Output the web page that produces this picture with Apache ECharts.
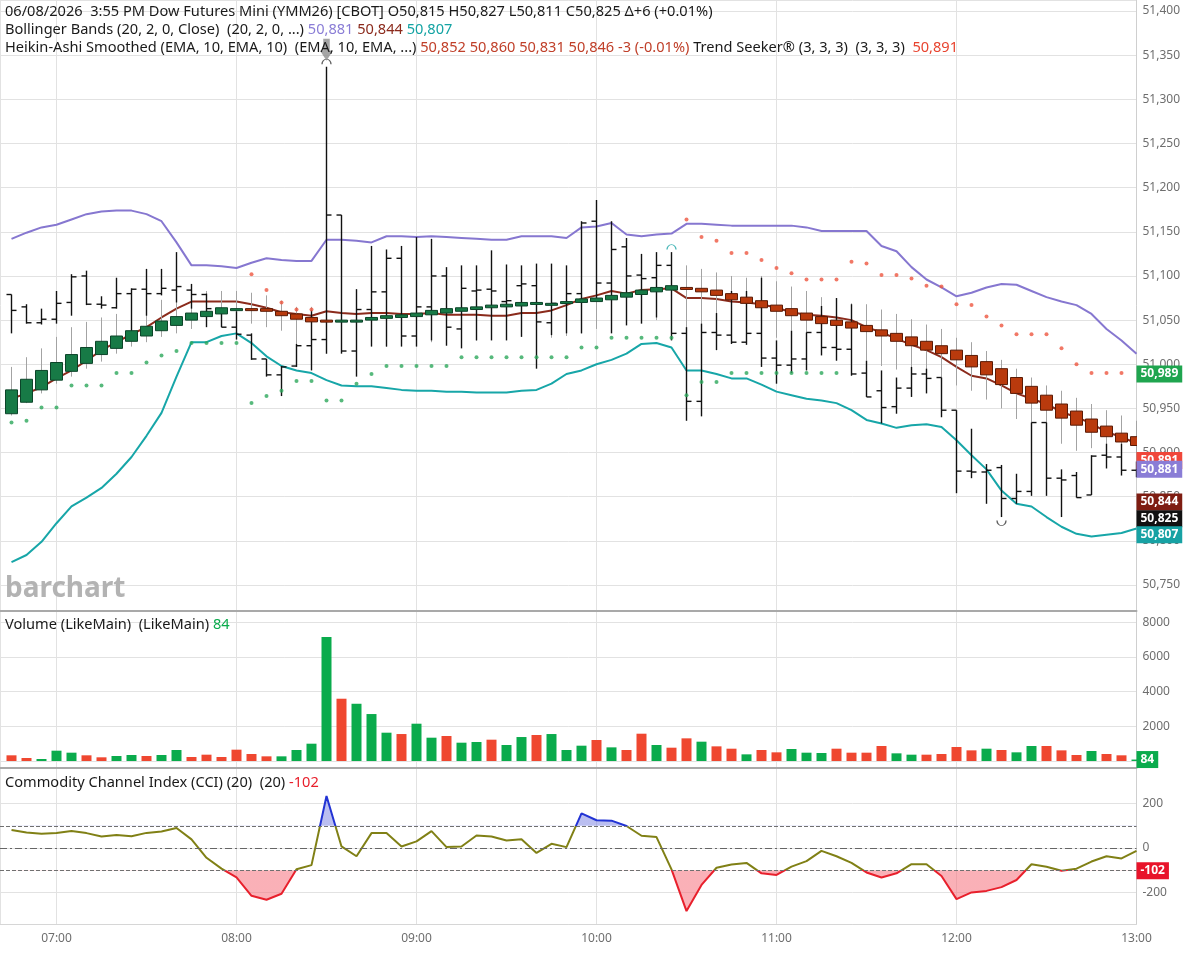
<!DOCTYPE html>
<html>
<head>
<meta charset="utf-8">
<script src="https://cdn.jsdelivr.net/npm/echarts@6/dist/echarts.min.js"></script>
<style>
html,body{margin:0;padding:0;background:#fff}
#chart{width:1188px;height:953px}
</style>
</head>
<body>
<div id="chart"></div>
<script>
// bar times (5 min bars)
var barTimes = ['06:45','06:50','06:55','07:00','07:05','07:10','07:15','07:20','07:25','07:30','07:35','07:40','07:45','07:50','07:55',
	'08:00','08:05','08:10','08:15','08:20','08:25','08:30','08:35','08:40','08:45','08:50','08:55',
	'09:00','09:05','09:10','09:15','09:20','09:25','09:30','09:35','09:40','09:45','09:50','09:55',
	'10:00','10:05','10:10','10:15','10:20','10:25','10:30','10:35','10:40','10:45','10:50','10:55',
	'11:00','11:05','11:10','11:15','11:20','11:25','11:30','11:35','11:40','11:45','11:50','11:55',
	'12:00','12:05','12:10','12:15','12:20','12:25','12:30','12:35','12:40','12:45','12:50','12:55','13:00'];

var ohlcOpen = [51079,51065,51047,51051,51070,51100,51068,51064,51080,51085,51080,51084,51084,51079,51063,51042,51033,51006,50988,50998,
	51021,51028,51169,51015,51062,51082,51120,51032,51065,51100,51040,51083,51085,51071,51089,51089,51047,51069,51080,51162,
	51092,51133,51101,51098,51112,51035,50958,51036,51033,51025,51035,51007,50999,51006,51036,51019,51017,50990,50970,50952,
	50973,50989,50985,50948,50879,50878,50883,50848,50856,50934,50871,50874,50852,50897,50895,50880];
var ohlcHigh = [51079,51068,51063,51083,51102,51106,51077,51098,51086,51108,51108,51127,51091,51080,51063,51060,51035,51006,50998,51023,
	51061,51337,51169,51085,51134,51130,51134,51144,51142,51110,51112,51112,51129,51113,51112,51114,51114,51112,51162,51186,
	51162,51143,51125,51127,51127,51042,51046,51058,51083,51083,51098,51027,51038,51036,51066,51075,51068,51004,50993,50985,
	50997,50995,50985,50948,50927,50887,50886,50876,50934,50934,50881,50878,50897,50910,50910,50890];
var ohlcLow = [51035,51046,51045,51046,51055,51067,51063,51063,51029,51055,51078,51070,51063,51042,51042,51028,51005,50986,50964,50997,
	50993,51012,51012,50986,51020,51020,51020,51020,51027,51021,51018,51027,51027,51027,51031,50995,51033,51035,51035,51075,
	51035,51044,51046,51053,51027,50936,50941,51016,51023,51022,50997,50978,50990,50993,51010,51004,50987,50963,50933,50944,
	50963,50967,50940,50854,50871,50842,50827,50842,50851,50851,50827,50849,50852,50882,50874,50872];
var ohlcClose = [51061,51047,51051,51069,51099,51068,51067,51080,51085,51080,51086,51088,51079,51063,51042,51034,51006,50988,50997,51021,
	51028,51169,51015,51062,51082,51120,51032,51065,51100,51042,51086,51084,51083,51072,51091,51048,51069,51080,51160,51092,
	51130,51100,51097,51112,51035,50958,51036,51033,51025,51035,51007,50999,51006,51036,51019,51017,50989,50963,50951,50973,
	50989,50984,50948,50879,50878,50880,50848,50856,50934,50871,50869,50849,50896,50895,50880,50882];

// Heikin-Ashi smoothed
var haOpen = [50944,50957,50971,50982,50992,51001,51011,51018,51026,51032,51038,51044,51050,51054,51057,51061,51063,51063,51060,51057,
	51053,51050,51048,51049,51050,51052,51053,51054,51056,51058,51060,51062,51064,51065,51066,51068,51068,51070,51070,51071,
	51073,51076,51079,51082,51084,51087,51086,51084,51080,51076,51072,51067,51063,51058,51054,51050,51048,51044,51039,51035,
	51031,51026,51021,51016,51010,51003,50995,50985,50975,50965,50955,50947,50938,50930,50922,50918];
var haClose = [50971,50983,50993,51002,51011,51019,51026,51032,51038,51043,51049,51054,51058,51060,51064,51063,51062,51060,51055,51051,
	51048,51048,51050,51050,51053,51055,51056,51058,51061,51063,51064,51065,51067,51068,51070,51070,51069,51071,51074,51075,
	51078,51081,51084,51087,51089,51086,51082,51078,51073,51069,51064,51060,51055,51050,51046,51044,51041,51037,51032,51026,
	51021,51016,51012,51005,50997,50988,50977,50967,50956,50948,50939,50931,50923,50918,50912,50908];
var haHigh = [50997,51008,51018,51031,51042,51048,51053,51057,51061,51068,51073,51078,51087,51083,51083,51083,51081,51078,51072,51065,
	51065,51075,51080,51085,51092,51100,51103,51105,51108,51108,51110,51110,51108,51107,51105,51105,51103,51100,51115,51125,
	51130,51128,51122,51120,51116,51112,51108,51104,51100,51098,51100,51094,51088,51083,51076,51075,51069,51068,51062,51057,
	51051,51045,51040,51030,51025,51015,51005,50995,50985,50976,50970,50962,50955,50948,50942,50936];
var haLow = [50942,50956,50967,50978,50986,50995,51003,51012,51020,51025,51031,51035,51040,51046,51042,51035,51046,51042,51038,51020,
	51028,51025,51025,51022,51022,51020,51021,51022,51025,51024,51026,51027,51028,51030,51032,51030,51030,51032,51035,51040,
	51042,51045,51048,51050,51052,51030,51020,51028,51030,51030,51027,51030,51038,51032,51025,51017,51010,51004,50998,50994,
	50985,50982,50985,50976,50970,50960,50950,50938,50930,50920,50910,50902,50905,50895,50890,50888];

// Bollinger bands
var bbUpper = [51142,51149,51155,51158,51164,51170,51173,51174,51174,51170,51162,51138,51112,51112,51111,51109,51115,51120,51118,51117,
	51117,51141,51141,51140,51138,51145,51145,51144,51145,51144,51143,51142,51141,51141,51145,51145,51145,51143,51155,51156,
	51160,51147,51145,51147,51148,51159,51159,51158,51157,51157,51157,51157,51157,51155,51151,51151,51151,51151,51134,51128,
	51110,51096,51087,51077,51081,51087,51091,51090,51083,51076,51071,51067,51057,51040,51027,51012];
var bbMiddle = [50961,50967,50974,50984,50993,51004,51016,51025,51034,51042,51053,51063,51071,51071,51071,51071,51068,51064,51059,51057,
	51055,51060,51058,51057,51058,51058,51057,51057,51058,51056,51056,51056,51055,51055,51058,51058,51061,51067,51074,51078,
	51083,51080,51084,51085,51086,51075,51075,51074,51071,51070,51068,51064,51059,51056,51055,51053,51050,51042,51036,51029,
	51022,51016,51008,50997,50987,50984,50976,50967,50961,50955,50946,50940,50933,50923,50918,50910];
var bbLower = [50776,50784,50799,50820,50839,50849,50860,50876,50895,50919,50945,50986,51025,51025,51032,51035,51024,51009,50998,50993,
	50990,50982,50976,50975,50975,50973,50971,50970,50970,50969,50969,50968,50968,50968,50970,50971,50978,50989,50993,51000,
	51005,51012,51023,51024,51019,50993,50993,50989,50984,50984,50977,50969,50965,50961,50959,50956,50948,50937,50933,50928,
	50931,50932,50929,50914,50897,50881,50857,50842,50839,50827,50816,50808,50805,50807,50809,50814];

// Trend Seeker stops
var tsUp = [50934,50936,50951,50951,50976,50976,50976,50990,50990,51002,51010,51015,51024,51024,51024,51024,50956,50964,50970,50981,
	50981,50959,50959,50978,50989,50998,50998,50998,50998,50998,51008,51008,51008,51008,51008,51008,51008,51008,51019,51019,
	51030,51030,51030,51030,51030,50965,50980,50980,50990,50990,50990,50990,50990,50990,50990,50990,null,null,null,null,
	null,null,null,null,null,null,null,null,null,null,null,null,null,null,null,null];
var tsDown = [null,null,null,null,null,null,null,null,null,null,null,null,null,null,null,null,51102,51084,51070,51062,
	51062,null,null,null,null,null,null,null,null,null,null,null,null,null,null,null,null,null,null,null,
	null,null,null,null,null,51164,51144,51140,51126,51126,51118,51109,51103,51096,51096,51096,51116,51114,51101,51101,
	51097,51089,51088,51068,51067,51054,51044,51034,51034,51034,51018,51000,50990,50990,50990,null];

var volume = [328,173,115,595,480,328,213,288,346,288,346,634,230,365,230,653,403,269,269,634,
	998,7142,3590,3300,2707,1632,1555,2150,1344,1440,1056,1094,1229,922,1382,1498,1555,634,883,1210,
	787,634,1574,922,768,1306,1114,845,710,384,634,500,691,480,461,710,480,480,864,442,
	365,365,403,806,614,710,634,500,864,864,614,346,576,403,328,84];
var volDir = ['d','d','u','u','u','d','d','u','u','d','u','u','d','d','d','d','d','d','u','u',
	'u','u','d','u','u','u','d','u','u','d','u','u','d','u','u','d','u','u','u','d',
	'u','d','d','u','d','d','u','d','d','u','d','d','u','u','u','d','d','d','d','u',
	'u','d','d','d','d','u','d','u','u','d','d','d','u','d','d','u'];

var cci = [81,70,64,67,76,67,52,59,53,68,74,90,39,-44,-93,-132,-215,-233,-206,-96,
	-77,234,7,-37,67,67,7,30,76,4,7,56,52,34,39,-22,19,4,156,125,
	123,99,55,49,-96,-284,-166,-89,-74,-67,-114,-121,-84,-59,-13,-37,-67,-110,-133,-114,
	-73,-73,-126,-230,-200,-193,-176,-144,-73,-84,-102,-93,-61,-37,-47,-13];

// last-value tags on the right axis
var priceTags = [50989, 50891, 50881, 50844, 50825, 50807];
var priceTagColors = ['#1fa54f', '#f0473a', '#8a7dd6', '#7e1d12', '#111111', '#17a2a4'];
var volTag = 84;
var cciTag = -102;

var swingHighBars = [21, 44];
var swingLowBars = [66];

function toMin(s) { var p = s.split(':'); return +p[0] * 60 + (+p[1]); }
var xs = barTimes.map(toMin);
function pair(arr) { return arr.map(function (v, i) { return [xs[i], v]; }); }
function fmtTime(v) {
	var h = Math.floor(v / 60), m = Math.round(v % 60);
	return (h < 10 ? '0' : '') + h + ':' + (m < 10 ? '0' : '') + m;
}
function fmtPrice(v) { return Math.round(v).toLocaleString('en-US'); }

var xMin = xs[0] - 11.5 / 3;
var xMax = xs[xs.length - 1];
var font = '"Noto Sans", "Open Sans", sans-serif';
var hs = 14.6; // header font size
var gridColor = '#e2e2e2';

function xAxisFor(gi, isBottom) {
	return {
		type: 'value', gridIndex: gi, min: xMin, max: xMax,
		splitNumber: 6, minInterval: 60, maxInterval: 60,
		axisLine: isBottom ? {onZero: false, lineStyle: {color: '#d6d6d6', width: 1}}
			: {onZero: false, lineStyle: {color: '#a9a9a9', width: 2}},
		axisTick: {show: false},
		axisLabel: {show: isBottom, showMinLabel: false, formatter: fmtTime, color: '#6e6e6e',
			fontSize: 12, fontFamily: font, margin: 9},
		splitLine: {show: true, lineStyle: {color: gridColor}}
	};
}
function yAxisFor(gi, min, max, step, n, fmt) {
	return {
		type: 'value', gridIndex: gi, position: 'right', min: min, max: max,
		splitNumber: n, minInterval: step, maxInterval: step, scale: true,
		axisLine: {show: true, lineStyle: {color: '#cfcfcf'}},
		axisTick: {show: false},
		axisLabel: {showMinLabel: false, showMaxLabel: false, formatter: fmt, color: '#6e6e6e',
			fontSize: 12, fontFamily: font, margin: 6},
		splitLine: {show: true, lineStyle: {color: gridColor}}
	};
}

var ohlcData = xs.map(function (x, i) { return [x, ohlcOpen[i], ohlcHigh[i], ohlcLow[i], ohlcClose[i]]; });
var haData = xs.map(function (x, i) { return [x, haOpen[i], haHigh[i], haLow[i], haClose[i]]; });
var bandData = xs.map(function (x, i) { return [x, bbUpper[i] - bbLower[i]]; });

function renderOhlc(params, api) {
	var x = api.value(0);
	var o = api.coord([x, api.value(1)]);
	var h = api.coord([x, api.value(2)]);
	var l = api.coord([x, api.value(3)]);
	var c = api.coord([x, api.value(4)]);
	var st = {stroke: '#111', lineWidth: 1.4};
	return {type: 'group', children: [
		{type: 'line', shape: {x1: h[0], y1: h[1], x2: l[0], y2: l[1]}, style: st},
		{type: 'line', shape: {x1: o[0] - 5, y1: o[1], x2: o[0], y2: o[1]}, style: st},
		{type: 'line', shape: {x1: c[0], y1: c[1], x2: c[0] + 5, y2: c[1]}, style: st}
	]};
}
function renderWick(params, api) {
	var x = api.value(0);
	var h = api.coord([x, api.value(2)]);
	var l = api.coord([x, api.value(3)]);
	return {type: 'line', shape: {x1: h[0], y1: h[1], x2: l[0], y2: l[1]},
		style: {stroke: '#a3a3a3', lineWidth: 1}};
}
function renderBody(params, api) {
	var x = api.value(0);
	var o = api.coord([x, api.value(1)]);
	var c = api.coord([x, api.value(4)]);
	var up = api.value(4) >= api.value(1);
	var top = Math.min(o[1], c[1]);
	var hgt = Math.max(Math.abs(o[1] - c[1]), 2);
	return {type: 'rect', shape: {x: o[0] - 6, y: top, width: 12, height: hgt},
		style: {fill: up ? '#177a46' : '#b93a0d', stroke: up ? '#0c4429' : '#5a1a05', lineWidth: 1}};
}

var volData = xs.map(function (x, i) {
	return {value: [x, volume[i]], itemStyle: {color: volDir[i] === 'u' ? '#0aab4c' : '#ef4730'}};
});

function tag(v, color, text) {
	return {yAxis: v, lineStyle: {color: 'rgba(0,0,0,0)', width: 0},
		label: {show: true, position: 'end', distance: 0, formatter: text, color: '#fff',
			backgroundColor: color, fontWeight: 'bold', fontSize: 12, fontFamily: font,
			padding: [3, 4, 2, 4], lineHeight: 12}};
}
function rs(c) { return {fill: c, fontSize: hs, fontFamily: font}; }

var chart = echarts.init(document.getElementById('chart'));

var option = {
	animation: false,
	backgroundColor: '#fff',
	grid: [
		{left: 0, right: 51.5, top: 0, height: 611},
		{left: 0, right: 51.5, top: 611, height: 157},
		{left: 0, right: 51.5, top: 768, height: 156}
	],
	xAxis: [xAxisFor(0, false), xAxisFor(1, false), xAxisFor(2, true)],
	yAxis: [
		yAxisFor(0, 50720.6, 51412.5, 50, 14, fmtPrice),
		yAxisFor(1, -403, 8646, 2000, 4, function (v) { return v; }),
		yAxisFor(2, -342, 360, 200, 3, function (v) { return v; })
	],
	visualMap: [
		{type: 'piecewise', show: false, seriesIndex: 12, dimension: 1,
			pieces: [{min: -1000, max: 100, color: 'rgba(255,255,255,0)'}, {gt: 100, color: 'rgba(118,126,226,0.5)'}]},
		{type: 'piecewise', show: false, seriesIndex: 13, dimension: 1,
			pieces: [{lt: -100, color: 'rgba(246,112,124,0.55)'}, {min: -100, max: 1000, color: 'rgba(255,255,255,0)'}]},
		{type: 'piecewise', show: false, seriesIndex: 14, dimension: 1,
			pieces: [{lt: -100, color: '#e8202c'}, {gte: -100, lte: 100, color: '#808015'}, {gt: 100, color: '#2233d4'}]}
	],
	graphic: [
		{type: 'text', left: 5, top: 4, z: 100, style: {
			text: '06/08/2026  3:55 PM Dow Futures Mini (YMM26) [CBOT] O50,815 H50,827 L50,811 C50,825 \u0394+6 (+0.01%)',
			fill: '#1a1a1a', fontSize: hs, fontFamily: font}},
		{type: 'text', left: 5, top: 22, z: 100, style: {
			text: '{k|Bollinger Bands (20, 2, 0, Close)  (20, 2, 0, ...)} {u|50,881} {m|50,844} {l|50,807}',
			fontSize: hs, fontFamily: font,
			rich: {k: rs('#1a1a1a'), u: rs('#8a7dd6'), m: rs('#8b2a1c'), l: rs('#13a3a3')}}},
		{type: 'text', left: 5, top: 40, z: 100, style: {
			text: '{k|Heikin-Ashi Smoothed (EMA, 10, EMA, 10)  (EMA, 10, EMA, ...)} {h|50,852 50,860 50,831 50,846 -3 (-0.01%)} {k|Trend Seeker\u00ae (3, 3, 3)  (3, 3, 3)}  {t|50,891}',
			fontSize: hs, fontFamily: font,
			rich: {k: rs('#1a1a1a'), h: rs('#c0402a'), t: rs('#e8442f')}}},
		{type: 'text', left: 5, top: 575, z: 100, style: {
			text: 'barchart', fill: '#b3b3b3', fontSize: 28, fontWeight: 'bold', fontFamily: font}},
		{type: 'text', left: 5, top: 617, z: 100, style: {
			text: '{k|Volume (LikeMain)  (LikeMain)} {g|84}', fontSize: hs, fontFamily: font,
			rich: {k: rs('#1a1a1a'), g: rs('#0aab4c')}}},
		{type: 'text', left: 5, top: 775, z: 100, style: {
			text: '{k|Commodity Channel Index (CCI) (20)  (20)} {r|-102}', fontSize: hs, fontFamily: font,
			rich: {k: rs('#1a1a1a'), r: rs('#e8202c')}}}
	],
	series: [
		// 0,1: band fill
		{type: 'line', xAxisIndex: 0, yAxisIndex: 0, data: pair(bbLower), stack: 'bb', symbol: 'none',
			lineStyle: {opacity: 0}, silent: true, z: 1},
		{type: 'line', xAxisIndex: 0, yAxisIndex: 0, data: bandData, stack: 'bb', symbol: 'none',
			lineStyle: {opacity: 0}, areaStyle: {color: 'rgba(160,214,214,0.28)', opacity: 1}, silent: true, z: 1},
		// 2-4: band lines
		{type: 'line', xAxisIndex: 0, yAxisIndex: 0, data: pair(bbUpper), symbol: 'none',
			lineStyle: {color: '#8677d0', width: 2}, z: 2},
		{type: 'line', xAxisIndex: 0, yAxisIndex: 0, data: pair(bbMiddle), symbol: 'none', clip: false,
			lineStyle: {color: '#8b2b1c', width: 2}, z: 2,
			markLine: {silent: true, symbol: ['none', 'none'], animation: false,
				data: priceTags.map(function (v, i) { return tag(v, priceTagColors[i], fmtPrice(v)); })}},
		{type: 'line', xAxisIndex: 0, yAxisIndex: 0, data: pair(bbLower), symbol: 'none',
			lineStyle: {color: '#17a6a8', width: 2}, z: 2},
		// 5,6: trend seeker
		{type: 'scatter', xAxisIndex: 0, yAxisIndex: 0, data: pair(tsUp), symbolSize: 4,
			itemStyle: {color: '#2da75b'}, z: 6},
		{type: 'scatter', xAxisIndex: 0, yAxisIndex: 0, data: pair(tsDown), symbolSize: 4,
			itemStyle: {color: '#ee5640'}, z: 6},
		// 7-9: HA wicks, OHLC bars, HA bodies
		{type: 'custom', xAxisIndex: 0, yAxisIndex: 0, data: haData, renderItem: renderWick, clip: true,
			encode: {x: 0, y: [1, 2, 3, 4]}, z: 3},
		{type: 'custom', xAxisIndex: 0, yAxisIndex: 0, data: ohlcData, renderItem: renderOhlc, clip: true,
			encode: {x: 0, y: [1, 2, 3, 4]}, z: 4},
		{type: 'custom', xAxisIndex: 0, yAxisIndex: 0, data: haData, renderItem: renderBody, clip: true,
			encode: {x: 0, y: [1, 2, 3, 4]}, z: 5},
		// 10: swing markers
		{type: 'scatter', xAxisIndex: 0, yAxisIndex: 0, z: 7, silent: true,
			data: swingHighBars.map(function (i, k) {
				return {value: [xs[i], ohlcHigh[i]], symbol: 'path://M0,5 A5,5 0 0 1 10,5', symbolSize: [9, 5],
					symbolOffset: [0, -5], itemStyle: {color: 'rgba(0,0,0,0)', borderWidth: 1,
						borderColor: k === 0 ? '#333' : '#17a2a4'}};
			}).concat(swingLowBars.map(function (i) {
				return {value: [xs[i], ohlcLow[i]], symbol: 'path://M0,0 A5,5 0 0 0 10,0', symbolSize: [9, 5],
					symbolOffset: [0, 6], itemStyle: {color: 'rgba(0,0,0,0)', borderWidth: 1, borderColor: '#333'}};
			})).concat([{value: [xs[21], ohlcHigh[21]],
				symbol: 'path://M3,0 L9,0 L9,7 L12,7 L6,13 L0,7 L3,7 Z', symbolSize: [13, 22],
				symbolOffset: [0, -17], itemStyle: {color: '#8f8f8f'}}])},
		// 11: volume
		{type: 'bar', xAxisIndex: 1, yAxisIndex: 1, data: volData, barWidth: 10, clip: false, z: 2,
			markLine: {silent: true, symbol: ['none', 'none'], animation: false,
				data: [tag(volTag, '#0aab4c', String(volTag))]}},
		// 12,13: CCI fills
		{type: 'line', xAxisIndex: 2, yAxisIndex: 2, data: pair(cci), symbol: 'none', silent: true,
			lineStyle: {opacity: 0}, areaStyle: {origin: 100, opacity: 1}, z: 1},
		{type: 'line', xAxisIndex: 2, yAxisIndex: 2, data: pair(cci), symbol: 'none', silent: true,
			lineStyle: {opacity: 0}, areaStyle: {origin: -100, opacity: 1}, z: 1},
		// 14: CCI line
		{type: 'line', xAxisIndex: 2, yAxisIndex: 2, data: pair(cci), symbol: 'none', clip: false,
			lineStyle: {width: 2}, z: 3,
			markLine: {silent: true, symbol: ['none', 'none'], animation: false, label: {show: false},
				data: [
					{yAxis: 100, lineStyle: {type: 'dashed', color: '#707070', width: 1}},
					{yAxis: -100, lineStyle: {type: 'dashed', color: '#707070', width: 1}},
					{yAxis: 0, lineStyle: {type: [7, 3, 2, 3], color: '#666', width: 1}},
					tag(cciTag, '#e8132a', String(cciTag))
				]}}
	]
};

chart.setOption(option);
</script>
</body>
</html>
